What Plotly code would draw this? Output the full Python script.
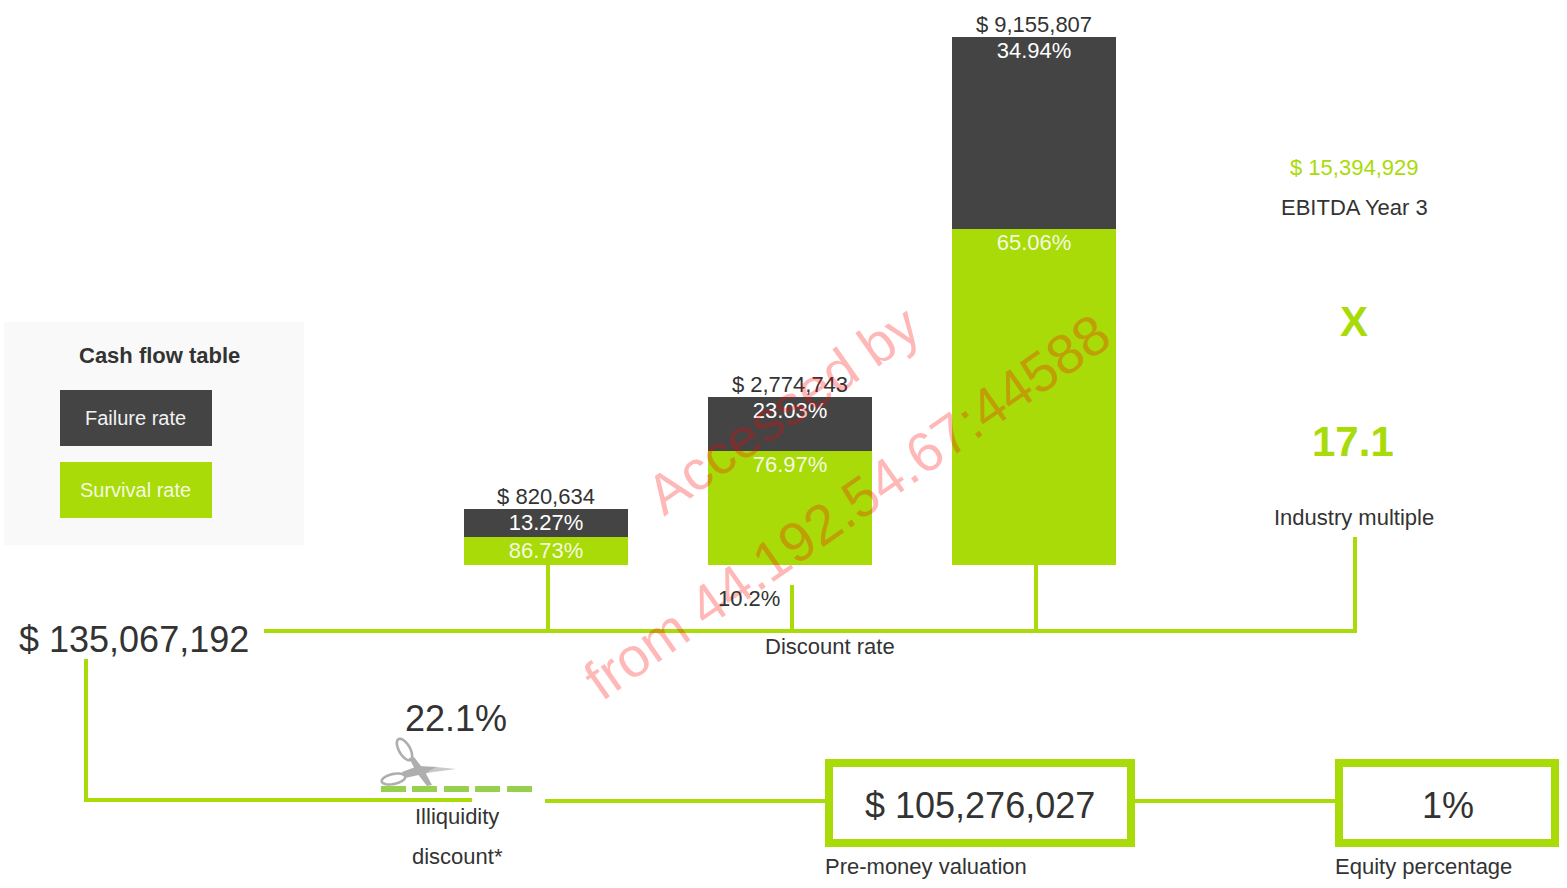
import math
import plotly.graph_objects as go

W, H = 1567, 888
FONT = "Liberation Sans, Arial, sans-serif"
DARK = "#444444"
GREEN = "#a8db08"
INK = "#333333"

# Data
stage_index = [0, 1, 2]
failure_heights = [28, 54, 192]
survival_heights = [28, 114, 336]
failure_rates = ["13.27%", "23.03%", "34.94%"]
survival_rates = ["86.73%", "76.97%", "65.06%"]
stage_totals = ["$ 820,634", "$ 2,774,743", "$ 9,155,807"]

LABEL_DROP = 4


def px(x):
    return x / W


def py(y):
    return 1 - y / H


stack_tops = [a + b for a, b in zip(failure_heights, survival_heights)]

fig = go.Figure()
fig.add_trace(go.Bar(x=stage_index, y=survival_heights, marker=dict(color=GREEN, line=dict(width=0)),
                     hoverinfo="skip", showlegend=False))
fig.add_trace(go.Bar(x=stage_index, y=failure_heights, marker=dict(color=DARK, line=dict(width=0)),
                     hoverinfo="skip", showlegend=False))
fig.add_trace(go.Scatter(x=stage_index, y=stack_tops, mode="text", text=stage_totals,
                         textposition="top center", textfont=dict(color=INK, size=22, family=FONT),
                         cliponaxis=False, hoverinfo="skip", showlegend=False))
fig.add_trace(go.Scatter(x=stage_index, y=[v - LABEL_DROP for v in stack_tops], mode="text", text=failure_rates,
                         textposition="bottom center", textfont=dict(color="#ffffff", size=22, family=FONT),
                         cliponaxis=False, hoverinfo="skip", showlegend=False))
fig.add_trace(go.Scatter(x=stage_index, y=[v - LABEL_DROP for v in survival_heights], mode="text",
                         text=survival_rates, textposition="bottom center",
                         textfont=dict(color="#f4f9e0", size=22, family=FONT),
                         cliponaxis=False, hoverinfo="skip", showlegend=False))

shapes = []


def rect(x0, y0, x1, y1, color, line=None, lw=0):
    shapes.append(dict(type="rect", xref="paper", yref="paper", x0=px(x0), x1=px(x1), y0=py(y0), y1=py(y1),
                       fillcolor=color, line=dict(color=line or "rgba(0,0,0,0)", width=lw), layer="above"))


def path(points, fill=None, stroke=None, lw=0):
    pts = [(px(a), py(b)) for a, b in points]
    d = "M" + " L".join(f"{a:.5f},{b:.5f}" for a, b in pts) + " Z"
    shapes.append(dict(type="path", xref="paper", yref="paper", path=d,
                       fillcolor=fill or "rgba(0,0,0,0)",
                       line=dict(color=stroke or "rgba(0,0,0,0)", width=lw), layer="above"))


def ring(cx, cy, a, b, deg, color, lw):
    t = math.radians(deg)
    pts = []
    for k in range(32):
        u = 2 * math.pi * k / 32
        ex, ey = a * math.cos(u), b * math.sin(u)
        pts.append((cx + ex * math.cos(t) - ey * math.sin(t), cy + ex * math.sin(t) + ey * math.cos(t)))
    path(pts, stroke=color, lw=lw)


# legend panel
rect(4, 322, 304, 545, "#f9f9f9")
rect(60, 390, 212, 446, DARK)
rect(60, 462, 212, 518, GREEN)

# connectors
rect(546, 565, 550, 629, GREEN)
rect(790, 585, 794, 629, GREEN)
rect(1034, 565, 1038, 629, GREEN)
rect(1353, 537, 1357, 633, GREEN)
rect(264, 629, 1357, 633, GREEN)
rect(84, 659, 88, 802, GREEN)
rect(84, 798, 472, 802, GREEN)
rect(545, 799, 825, 803, GREEN)
rect(1135, 799, 1335, 803, GREEN)

# boxes
rect(829, 763, 1131, 843, "#ffffff", GREEN, 8)
rect(1339, 763, 1555, 843, "#ffffff", GREEN, 8)

# cut line
for a, b in [(381, 406), (412, 437), (444, 469), (475, 500), (507, 532)]:
    rect(a, 786, b, 792, "#97cf4f")

# scissors
GREY = "#aeaeae"
ring(404.5, 749.5, 12, 5.5, 60, GREY, 2.6)
ring(393.5, 779, 12, 5, -12, GREY, 2.6)
path([(409, 758), (414, 757), (424, 770), (432, 785), (427, 786), (417, 773)], fill=GREY)
path([(402, 772), (418, 766), (438, 767), (428, 773), (405, 778)], fill=GREY)
path([(436, 767), (456, 769), (426, 773)], fill="#c9c9c9")

annotations = []


def text(x, y, s, size=22, color=INK, bold=False, anchor="center"):
    annotations.append(dict(x=px(x), y=py(y), xref="paper", yref="paper", text=f"<b>{s}</b>" if bold else s,
                            showarrow=False, xanchor=anchor, yanchor="middle",
                            font=dict(size=size, color=color, family=FONT)))


# watermark
annotations.append(dict(x=px(783), y=py(409.5), xref="paper", yref="paper", text="Accessed by", showarrow=False,
                        textangle=-35, font=dict(size=56, color="rgba(255,0,0,0.28)", family=FONT)))
annotations.append(dict(x=px(847), y=py(506.5), xref="paper", yref="paper", text="from 44.192.54.67:44588",
                        showarrow=False, textangle=-35, font=dict(size=56, color="rgba(255,0,0,0.28)", family=FONT)))

text(159, 355, "Cash flow table", bold=True)
text(135.5, 418, "Failure rate", 20, "#f2f2f2")
text(135.5, 490, "Survival rate", 20, "#f4f9e0")
text(1354, 167, "$ 15,394,929", 22, GREEN)
text(1354, 207, "EBITDA Year 3")
text(1354, 322, "X", 42, GREEN, True)
text(1353, 441.5, "17.1", 42, GREEN, True)
text(1354, 517, "Industry multiple")
text(134, 639, "$ 135,067,192", 36)
text(749, 598, "10.2%")
text(830, 646, "Discount rate")
text(456, 718.5, "22.1%", 36)
text(456.5, 816, "Illiquidity")
text(457, 856, "discount*")
text(980, 805.5, "$ 105,276,027", 36)
text(823, 866, "Pre-money valuation", anchor="left")
text(1447.5, 805.5, "1%", 36)
text(1333, 866, "Equity percentage", anchor="left")

fig.update_layout(
    width=W, height=H, autosize=False, margin=dict(l=0, r=0, t=0, b=0, pad=0),
    paper_bgcolor="#ffffff", plot_bgcolor="rgba(0,0,0,0)",
    barmode="stack", bargap=1 - 164 / 244,
    xaxis=dict(range=[-546 / 244, (W - 546) / 244], visible=False, fixedrange=True),
    yaxis=dict(range=[565 - H, 565], visible=False, fixedrange=True),
    shapes=shapes, annotations=annotations, hovermode=False,
)
fig.write_html("out.html", config=dict(displayModeBar=False),
               post_script="document.body.style.margin='0';document.body.style.overflow='hidden';")
